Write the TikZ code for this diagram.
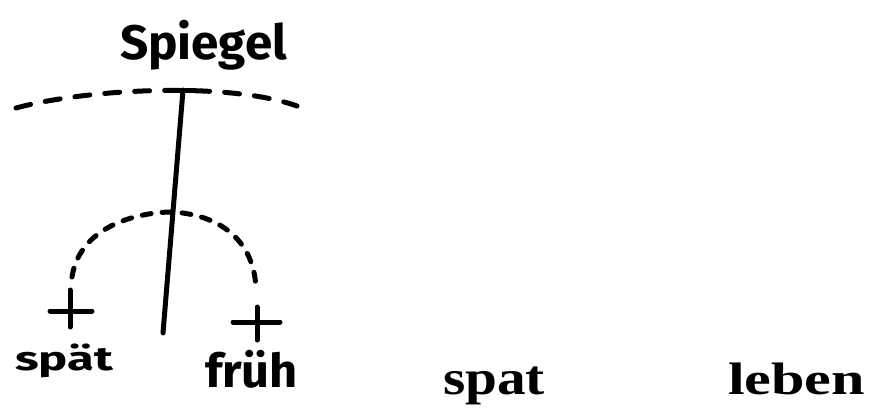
\documentclass[tikz,border=0pt]{standalone}
\usepackage{fontspec}
\setmainfont{Liberation Serif}
\newfontfamily\handfont{Fira Sans}
\usepackage{graphicx}
\begin{document}
\begin{tikzpicture}[x=1pt,y=-1pt,
  stroke/.style={line width=5pt,line cap=round,line join=round},
  longdash/.style={stroke,dash pattern=on 15pt off 15pt},
  shortdash/.style={stroke,dash pattern=on 9pt off 11pt},
  hand/.style={inner sep=0pt,outer sep=0pt,anchor=north west,font=\handfont\bfseries},
  print/.style={inner sep=0pt,outer sep=0pt,anchor=north west,font=\bfseries}]
\useasboundingbox (0,0) rectangle (874,407);
% labels
\node[hand] (spiegel) at (120,20) {\resizebox*{167pt}{50pt}{Spiegel}};
\node[hand] (spaet) at (15,344) {\resizebox*{98pt}{34pt}{spät}};
\node[hand] (frueh) at (205,350) {\resizebox*{93pt}{38pt}{früh}};
\node[print] (spat) at (443,367) {\resizebox*{102pt}{38pt}{spat}};
\node[print] (leben) at (728,363) {\resizebox*{137pt}{32pt}{leben}};
% coordinates
\coordinate (mirL) at (16,108);
\coordinate (mirR) at (297,106);
\coordinate (top) at (183,90);
\coordinate (bot) at (163,333);
\coordinate (archL) at (72,277);
\coordinate (archP) at (172,212);
\coordinate (archR) at (256,290);
% mirror arc
\draw[longdash] (mirL) .. controls (90,88) and (230,82) .. (mirR);
\draw[stroke] (172,90) -- (194,90);
\draw[stroke] (top) -- (bot);
% arch
\draw[shortdash] (archL) .. controls (80,225) and (140,212) .. (archP)
  .. controls (225,215) and (255,245) .. (archR);
% plus signs
\draw[stroke] (70,290) -- (70,327) (50,311) -- (92,311);
\draw[stroke] (257,307) -- (257,340) (233,322) -- (280,322);
\end{tikzpicture}
\end{document}
